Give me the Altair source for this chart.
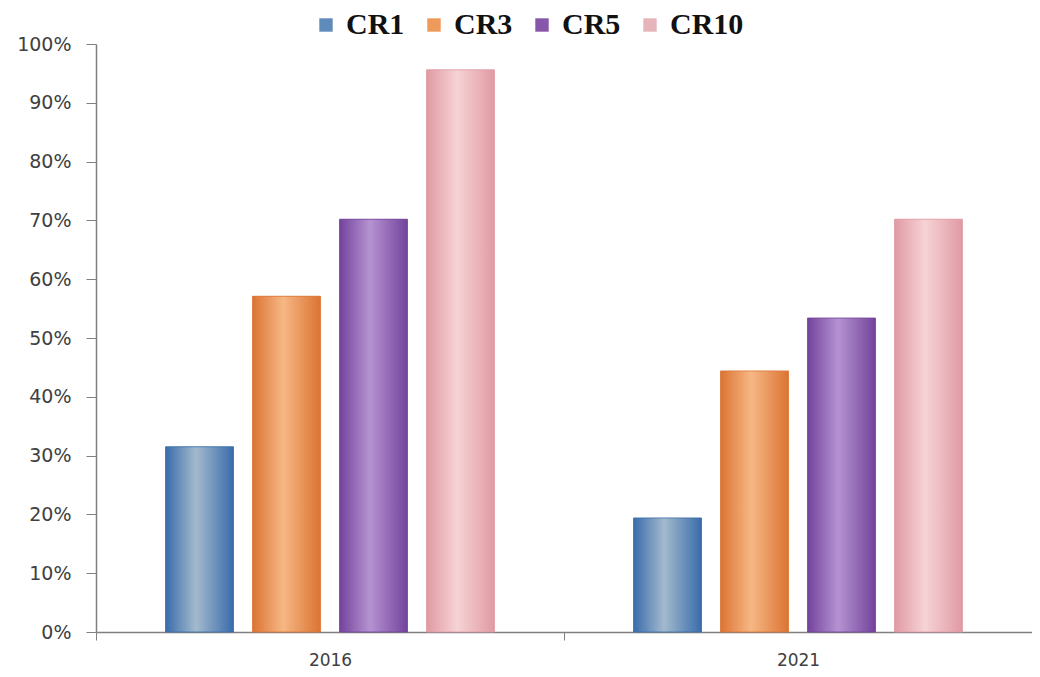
import altair as alt
import pandas as pd

years = ["2016", "2021"]
series = ["CR1", "CR3", "CR5", "CR10"]
values_2016 = [0.315, 0.571, 0.702, 0.956]
values_2021 = [0.194, 0.444, 0.534, 0.702]

legend_colors = ["#5f8bbb", "#ee9a5a", "#8757ab", "#e6b4bb"]
edge_colors = ["#3a6cab", "#db7433", "#73439c", "#e09aa3"]
mid_colors = ["#a3bacd", "#f6b784", "#b593d1", "#f6d3d6"]

rows = []
for y, vals in zip(years, [values_2016, values_2021]):
    for s, v in zip(series, vals):
        rows.append({"year": y, "series": s, "value": v})
df = pd.DataFrame(rows)

x_enc = alt.X(
    "year:N",
    sort=years,
    title=None,
    scale=alt.Scale(paddingInner=0, paddingOuter=0),
    axis=alt.Axis(
        labelAngle=0,
        labelFont="DejaVu Sans",
        labelFontSize=17,
        labelColor="#404040",
        labelPadding=12,
        tickBand="extent",
        tickSize=8,
        tickColor="#808080",
        domainColor="#808080",
        domainWidth=1.5,
    ),
)
xo_enc = alt.XOffset(
    "series:N",
    sort=series,
    scale=alt.Scale(domain=series, paddingInner=0.22, paddingOuter=0.8),
)
y_enc = alt.Y(
    "value:Q",
    title=None,
    scale=alt.Scale(domain=[0, 1], nice=False),
    axis=alt.Axis(
        values=[i / 10 for i in range(11)],
        format=".0%",
        grid=False,
        labelFont="DejaVu Sans",
        labelFontSize=19,
        labelColor="#404040",
        labelPadding=15,
        tickSize=10,
        tickColor="#808080",
        domainColor="#808080",
        domainWidth=1.5,
    ),
)

base = alt.Chart(df).encode(x=x_enc, xOffset=xo_enc, y=y_enc)

legend_layer = base.mark_bar().encode(
    color=alt.Color(
        "series:N",
        sort=series,
        scale=alt.Scale(domain=series, range=legend_colors),
        legend=alt.Legend(
            orient="none",
            legendX=215,
            legendY=-34,
            direction="horizontal",
            title=None,
            symbolType="square",
            symbolSize=180,
            symbolStrokeWidth=0,
            labelFont="Liberation Serif",
            labelFontSize=30,
            labelFontWeight="bold",
            labelColor="#111111",
            labelOffset=5,
            columnPadding=14,
            padding=0,
        ),
    )
)

layers = [legend_layer]
for s, e, m in zip(series, edge_colors, mid_colors):
    grad = alt.Gradient(
        gradient="linear",
        x1=0, x2=1, y1=0, y2=0,
        stops=[
            alt.GradientStop(offset=0, color=e),
            alt.GradientStop(offset=0.45, color=m),
            alt.GradientStop(offset=1, color=e),
        ],
    )
    layers.append(
        base.transform_filter(alt.datum.series == s).mark_bar(
            color=grad, stroke=e, strokeWidth=0.8
        )
    )

chart = (
    alt.layer(*layers)
    .properties(
        width=936,
        height=588,
        autosize=alt.AutoSizeParams(type="none"),
        padding={"left": 88, "top": 36, "right": 0, "bottom": 36},
        background="white",
    )
    .configure_view(stroke=None)
)

chart.save("out.html", embed_options={"renderer": "svg", "actions": False})
